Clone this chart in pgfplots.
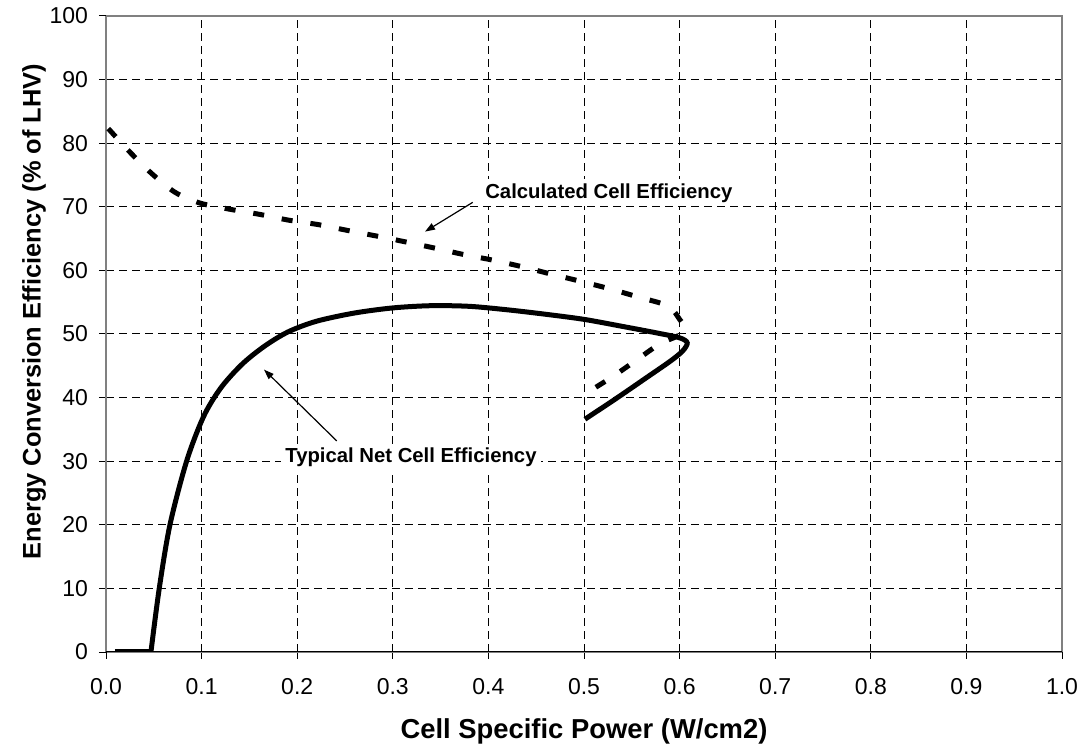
\documentclass[border=0pt]{standalone}
\usepackage{fontspec}
\setmainfont{Liberation Sans}
\usepackage{pgfplots}
\pgfplotsset{compat=1.18}
\usetikzlibrary{arrows.meta}
\begin{document}
\begin{tikzpicture}
\useasboundingbox (-53bp,-47.5bp) rectangle (490bp,326bp);
\begin{axis}[
  at={(0,0)}, anchor=south west,
  scale only axis, width=478bp, height=318bp,
  xmin=0, xmax=1, ymin=0, ymax=100,
  xtick={0.1,0.2,0.3,0.4,0.5,0.6,0.7,0.8,0.9},
  xticklabels={0.1,0.2,0.3,0.4,0.5,0.6,0.7,0.8,0.9},
  extra x ticks={0,1},
  extra x tick labels={0.0,1.0},
  extra x tick style={grid=none},
  ytick={10,20,30,40,50,60,70,80,90},
  extra y ticks={0,100},
  extra y tick style={grid=none},
  /pgf/number format/assume math mode=true,
  grid=major,
  major grid style={black, line width=0.5bp, dash pattern=on 4bp off 2.5bp},
  axis line style={draw=gray, line width=0.7bp},
  tick align=outside,
  xtick pos=bottom, ytick pos=left,
  major tick length=3.5bp,
  tick style={black, line width=0.5bp},
  ticklabel style={font=\fontsize{11.5bp}{13bp}\selectfont},
  xticklabel style={yshift=-6bp},
  yticklabel style={xshift=-2bp},
  xlabel={Cell Specific Power (W/cm2)},
  ylabel={Energy Conversion Efficiency (\% of LHV)},
  xlabel style={font=\bfseries\fontsize{13.7bp}{15bp}\selectfont, at={(axis description cs:0.5,-0.1254)}, anchor=center},
  ylabel style={font=\bfseries\fontsize{12.7bp}{15bp}\selectfont, at={(axis description cs:-0.0753,0.535)}, anchor=center},
]
% Typical net cell efficiency
\addplot[black, line width=2.5bp] coordinates {(0.0094,0) (0.047,0)};
\addplot[black, line width=2.5bp, smooth] coordinates {
(0.047,0) (0.0557,10) (0.0669,20) (0.0843,30) (0.102,37) (0.120,41.5)
(0.142,45.2) (0.165,48.0) (0.19,50.3) (0.22,52.0) (0.26,53.3) (0.30,54.1)
(0.34,54.45) (0.38,54.35) (0.42,53.8) (0.46,53.1) (0.50,52.3) (0.54,51.2)
(0.575,50.2) (0.6,49.4) (0.608,48.6) (0.603,47.3) (0.59,45.7) (0.565,43.1)
(0.535,40.0) (0.501,36.6)
};
% Calculated cell efficiency
\addplot[black, line width=2.5bp, dash pattern=on 5.5bp off 9bp, smooth] coordinates {
(0.0024,82.3) (0.025,78.6) (0.048,75.2) (0.072,72.3) (0.098,70.6)
(0.130,69.6) (0.161,68.8) (0.191,67.9) (0.222,67.2) (0.252,66.3) (0.283,65.4)
(0.3127,64.5) (0.344,63.5) (0.374,62.5) (0.405,61.6) (0.436,60.55) (0.466,59.4)
(0.496,58.3) (0.527,57.1) (0.557,55.8) (0.588,54.4) (0.600,52.3)
(0.606,50.8) (0.598,49.7) (0.5788,48.4) (0.554,45.8) (0.529,43.2)
(0.5045,40.9)
};
\draw[black, line width=0.7bp] (rel axis cs:0,0) -- (rel axis cs:1,0);
\node[fill=white, inner sep=2bp, font=\bfseries\fontsize{10.15bp}{12bp}\selectfont]
  at (axis cs:0.319,30.6) {Typical Net Cell Efficiency};
\node[fill=white, inner sep=2bp, font=\bfseries\fontsize{10.15bp}{12bp}\selectfont]
  at (axis cs:0.526,72.2) {Calculated Cell Efficiency};
\draw[black, line width=0.6bp, -{Triangle[length=5bp,width=3.5bp]}]
  (axis cs:0.2413,33.2) -- (axis cs:0.1653,44.4);
\draw[black, line width=0.6bp, -{Triangle[length=5bp,width=3.5bp]}]
  (axis cs:0.3836,70.7) -- (axis cs:0.3337,66.1);
\end{axis}
\end{tikzpicture}
\end{document}
